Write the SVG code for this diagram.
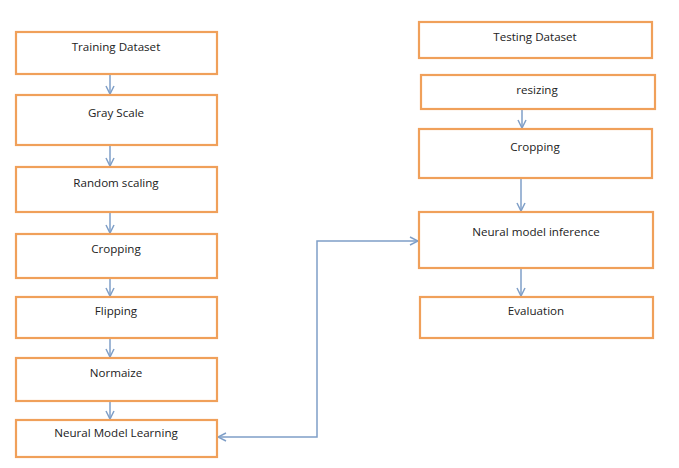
<svg xmlns="http://www.w3.org/2000/svg" width="679" height="468" viewBox="0 0 679 468">
<style>
.box{fill:#fff;stroke:#F0A05A;stroke-width:2.2}
.lbl{font-family:"Open Sans","Liberation Sans",sans-serif;font-size:11.6px;fill:#222;text-anchor:middle}
.conn{fill:none;stroke:#7F9FC8;stroke-width:1.5}
</style>
<defs>
<marker id="ah" viewBox="0 0 10 10" refX="9" refY="5" markerWidth="10" markerHeight="10" markerUnits="userSpaceOnUse" orient="auto-start-reverse">
<path d="M1,1 L9,5 L1,9" fill="none" stroke="#7F9FC8" stroke-width="1.5"/>
</marker>
</defs>
<rect width="679" height="468" fill="#fff"/>
<g id="connectors">
<line class="conn" x1="110" y1="74" x2="110" y2="94" marker-end="url(#ah)"/>
<line class="conn" x1="110" y1="145" x2="110" y2="166" marker-end="url(#ah)"/>
<line class="conn" x1="110" y1="212" x2="110" y2="233" marker-end="url(#ah)"/>
<line class="conn" x1="110" y1="278" x2="110" y2="296" marker-end="url(#ah)"/>
<line class="conn" x1="110" y1="338" x2="110" y2="357" marker-end="url(#ah)"/>
<line class="conn" x1="110" y1="401" x2="110" y2="419" marker-end="url(#ah)"/>
<line class="conn" x1="522" y1="109" x2="522" y2="128" marker-end="url(#ah)"/>
<line class="conn" x1="521" y1="178" x2="521" y2="211" marker-end="url(#ah)"/>
<line class="conn" x1="521" y1="268" x2="521" y2="296" marker-end="url(#ah)"/>
<polyline class="conn" points="218,437 317,437 317,241 418,241" marker-start="url(#ah)" marker-end="url(#ah)"/>
</g>
<g id="n1"><rect class="box" x="16" y="32" width="201" height="42"/><text class="lbl" x="116" y="51">Training Dataset</text></g>
<g id="n2"><rect class="box" x="16" y="95" width="201" height="50"/><text class="lbl" x="116" y="117">Gray Scale</text></g>
<g id="n3"><rect class="box" x="16" y="167" width="201" height="45"/><text class="lbl" x="116" y="187">Random scaling</text></g>
<g id="n4"><rect class="box" x="16" y="234" width="201" height="44"/><text class="lbl" x="116" y="253">Cropping</text></g>
<g id="n5"><rect class="box" x="16" y="297" width="201" height="41"/><text class="lbl" x="116" y="315">Flipping</text></g>
<g id="n6"><rect class="box" x="16" y="358" width="201" height="43"/><text class="lbl" x="116" y="377">Normaize</text></g>
<g id="n7"><rect class="box" x="16" y="420" width="201" height="37"/><text class="lbl" x="116" y="437">Neural Model Learning</text></g>
<g id="n8"><rect class="box" x="419" y="22" width="233" height="36"/><text class="lbl" x="535" y="41">Testing Dataset</text></g>
<g id="n9"><rect class="box" x="421" y="75" width="234" height="34"/><text class="lbl" x="537" y="94">resizing</text></g>
<g id="n10"><rect class="box" x="419" y="129" width="233" height="49"/><text class="lbl" x="535" y="151">Cropping</text></g>
<g id="n11"><rect class="box" x="419" y="212" width="234" height="56"/><text class="lbl" x="536" y="236">Neural model inference</text></g>
<g id="n12"><rect class="box" x="420" y="297" width="233" height="41"/><text class="lbl" x="536" y="315">Evaluation</text></g>
</svg>
